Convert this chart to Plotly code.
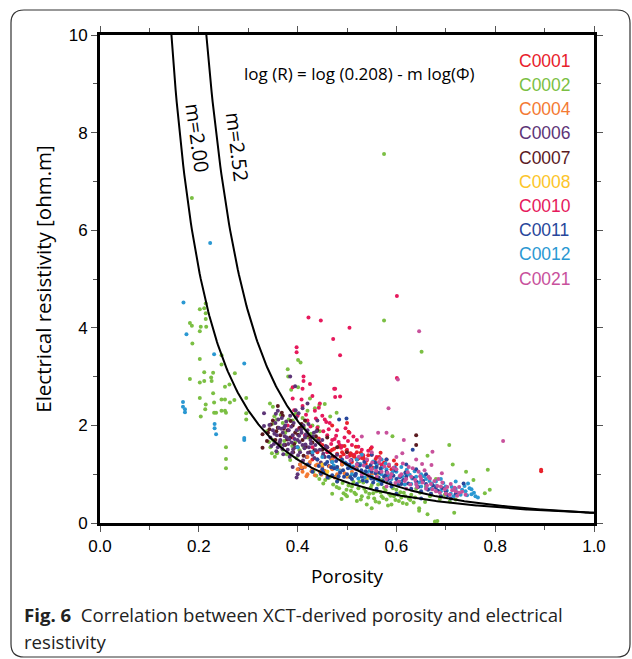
import numpy as np
import plotly.graph_objects as go

# ---------------- data ----------------
series_names = ["C0001", "C0002", "C0004", "C0006", "C0007", "C0008", "C0010", "C0011", "C0012", "C0021"]
series_colors = ["#e8212b", "#7bbf43", "#f47a33", "#5d3577", "#5b1a1f", "#fcc52a", "#e6195c", "#28479b", "#2a98d2", "#c8519c"]

c0001_phi = [0.45, 0.46, 0.47, 0.48, 0.49, 0.495, 0.50, 0.505, 0.51, 0.515, 0.52, 0.525, 0.53, 0.535, 0.54, 0.545, 0.55, 0.555, 0.56, 0.565, 0.57, 0.58, 0.59, 0.60, 0.62, 0.44, 0.47, 0.50, 0.503, 0.43, 0.893, 0.893,
             0.443, 0.457, 0.466, 0.474, 0.483, 0.487, 0.493, 0.499, 0.507, 0.512, 0.518, 0.523, 0.528, 0.533, 0.538, 0.543, 0.548, 0.553, 0.558, 0.563, 0.568, 0.575, 0.585, 0.595]
c0001_res = [1.60, 1.55, 1.50, 1.42, 1.45, 1.58, 1.35, 1.38, 1.25, 1.36, 1.45, 1.20, 1.33, 1.30, 1.28, 1.15, 1.40, 1.25, 1.05, 1.35, 1.15, 1.30, 1.10, 1.20, 1.05, 1.45, 2.00, 2.05, 1.87, 1.30, 1.09, 1.06,
             1.73, 1.52, 1.47, 1.52, 1.56, 1.36, 1.41, 1.48, 1.43, 1.38, 1.56, 1.32, 1.44, 1.34, 1.21, 1.39, 1.52, 1.13, 1.31, 1.22, 1.44, 1.24, 1.17, 1.28]

c0002_phi = [0.186, 0.214, 0.211, 0.202, 0.214, 0.214, 0.182, 0.186, 0.204, 0.215, 0.202, 0.187, 0.202, 0.211, 0.182, 0.202, 0.211, 0.225, 0.226, 0.229,
             0.246, 0.246, 0.273, 0.262, 0.253, 0.229, 0.202, 0.246, 0.253, 0.263, 0.272, 0.296, 0.296, 0.296, 0.214, 0.213, 0.231, 0.231, 0.235, 0.246,
             0.253, 0.255, 0.204, 0.255, 0.255, 0.255,
             0.380, 0.401, 0.406, 0.401, 0.387, 0.381, 0.344, 0.350, 0.353, 0.358, 0.348, 0.358, 0.385, 0.412, 0.455, 0.444, 0.466, 0.441, 0.479,
             0.360, 0.370, 0.375, 0.390, 0.400, 0.410, 0.420, 0.430, 0.365, 0.350, 0.395, 0.345, 0.370, 0.420, 0.425, 0.435,
             0.338, 0.342, 0.351, 0.359, 0.366, 0.373, 0.382, 0.389, 0.396, 0.404, 0.413, 0.418, 0.427, 0.436, 0.445, 0.354, 0.378, 0.398,
             0.444, 0.452, 0.466, 0.479, 0.489, 0.493, 0.499, 0.469, 0.500, 0.510, 0.515, 0.520, 0.525, 0.530, 0.535, 0.540, 0.545, 0.550, 0.555, 0.560,
             0.565, 0.570, 0.575, 0.580, 0.585, 0.590, 0.595, 0.600, 0.605, 0.610, 0.615, 0.621, 0.625, 0.630, 0.635, 0.646, 0.646, 0.663, 0.678, 0.683,
             0.717, 0.480, 0.460, 0.470, 0.505, 0.540, 0.550, 0.570, 0.600, 0.640, 0.660, 0.670, 0.690, 0.700, 0.720,
             0.432, 0.438, 0.447, 0.456, 0.463, 0.472, 0.477, 0.484, 0.491, 0.497, 0.503, 0.508, 0.513, 0.518, 0.523, 0.528, 0.533, 0.538, 0.543, 0.548,
             0.553, 0.558, 0.563, 0.568, 0.573, 0.578, 0.583, 0.588, 0.593, 0.598, 0.603, 0.608, 0.613, 0.618, 0.628, 0.638, 0.648, 0.658, 0.668, 0.688,
             0.698, 0.708,
             0.707, 0.785, 0.779, 0.789, 0.756, 0.741, 0.714, 0.663, 0.651, 0.575, 0.592, 0.620, 0.650, 0.680, 0.575]
c0002_res = [6.66, 4.50, 4.40, 4.38, 4.30, 4.18, 4.10, 4.04, 4.02, 4.02, 3.93, 3.68, 3.36, 3.09, 2.95, 2.88, 2.91, 2.98, 2.91, 3.08,
             3.44, 3.25, 3.07, 2.84, 2.79, 2.66, 2.56, 2.53, 2.53, 2.47, 2.52, 2.56, 2.25, 2.12, 2.43, 2.33, 2.47, 2.26, 2.26, 2.30,
             2.30, 2.26, 2.18, 1.55, 1.31, 1.12,
             3.15, 3.34, 3.29, 2.78, 2.73, 3.00, 2.45, 2.38, 2.19, 2.12, 1.43, 1.43, 1.29, 1.56, 2.44, 2.42, 2.18, 1.97, 2.26,
             1.95, 2.05, 1.85, 2.10, 1.90, 2.15, 1.75, 2.00, 1.60, 1.70, 1.65, 1.55, 1.50, 2.30, 2.55, 2.35,
             1.88, 1.66, 2.04, 1.44, 2.22, 1.68, 2.12, 1.58, 2.24, 1.49, 1.95, 2.08, 1.83, 1.72, 1.88, 1.36, 1.41, 1.33,
             0.90, 0.81, 0.95, 0.74, 0.49, 0.61, 0.68, 1.15, 0.55, 0.75, 0.62, 0.45, 0.85, 0.55, 0.70, 0.38, 0.60, 0.78, 0.50, 0.65,
             0.42, 0.55, 0.72, 0.48, 0.60, 0.38, 0.55, 0.68, 0.45, 0.52, 0.62, 0.39, 0.50, 0.58, 0.42, 0.30, 0.25, 0.18, 0.03, 0.04,
             0.21, 0.85, 1.05, 0.60, 0.95, 0.90, 0.30, 0.88, 0.80, 0.70, 0.75, 0.60, 0.55, 0.65, 0.48,
             1.05, 0.97, 1.02, 0.88, 0.92, 0.79, 0.95, 0.71, 0.82, 0.58, 0.77, 0.66, 0.84, 0.59, 0.71, 0.48, 0.83, 0.64, 0.52, 0.73,
             0.61, 0.44, 0.79, 0.63, 0.51, 0.67, 0.36, 0.56, 0.71, 0.47, 0.58, 0.63, 0.41, 0.55, 0.47, 0.52, 0.62, 0.43, 0.55, 0.49,
             0.58, 0.44,
             1.60, 1.09, 0.61, 0.68, 0.88, 1.05, 1.20, 1.38, 3.51, 7.56, 1.78, 1.05, 0.95, 0.90, 4.15]

c0004_phi = [0.40, 0.405, 0.41, 0.415, 0.42, 0.425, 0.43, 0.435, 0.44, 0.445, 0.45, 0.46, 0.47, 0.48, 0.49, 0.50, 0.51, 0.52, 0.42, 0.47, 0.55,
             0.408, 0.418, 0.428, 0.437, 0.448, 0.455, 0.465, 0.475, 0.485, 0.495]
c0004_res = [1.10, 1.20, 1.05, 1.15, 1.00, 1.25, 1.10, 0.98, 1.20, 1.05, 1.15, 0.95, 1.10, 1.00, 1.20, 0.95, 1.05, 1.15, 1.35, 1.30, 1.00,
             1.14, 0.96, 1.06, 1.18, 0.99, 1.07, 1.16, 0.93, 1.08, 1.02]

c0006_phi = [0.345, 0.350, 0.352, 0.355, 0.358, 0.360, 0.362, 0.365, 0.368, 0.370, 0.372, 0.375, 0.378, 0.380, 0.382, 0.385, 0.388, 0.390, 0.392, 0.395,
             0.398, 0.400, 0.402, 0.405, 0.408, 0.410, 0.412, 0.415, 0.418, 0.420, 0.423, 0.426, 0.430, 0.433, 0.436, 0.440, 0.445, 0.450, 0.455, 0.460,
             0.470, 0.480, 0.490, 0.400, 0.402, 0.405, 0.398, 0.390, 0.420, 0.410, 0.440, 0.360, 0.332, 0.332, 0.385, 0.395,
             0.347, 0.353, 0.357, 0.361, 0.364, 0.367, 0.371, 0.374, 0.377, 0.381, 0.384, 0.387, 0.391, 0.394, 0.397, 0.401, 0.404, 0.407, 0.411, 0.414,
             0.417, 0.421, 0.424, 0.427, 0.431, 0.434, 0.437, 0.441, 0.447, 0.452, 0.457, 0.463, 0.468, 0.356, 0.369, 0.383, 0.396, 0.409, 0.422, 0.438,
             0.343, 0.373, 0.389, 0.403, 0.416]
c0006_res = [1.75, 1.90, 1.62, 2.05, 1.80, 1.55, 1.95, 1.70, 2.15, 1.85, 1.60, 2.00, 1.75, 1.50, 1.90, 2.20, 1.65, 1.80, 2.05, 1.55,
             1.90, 1.70, 2.25, 1.45, 1.85, 1.60, 2.00, 1.75, 1.35, 1.90, 1.55, 1.70, 1.40, 1.85, 1.60, 1.30, 1.50, 1.70, 1.35, 1.55,
             1.25, 1.40, 1.20, 1.00, 1.10, 1.20, 0.93, 1.15, 2.45, 2.35, 2.10, 2.30, 2.25, 1.99, 3.00, 2.80,
             1.58, 1.83, 1.47, 2.12, 1.66, 1.93, 1.41, 1.78, 2.08, 1.62, 1.36, 1.97, 1.51, 1.72, 2.16, 1.39, 1.66, 1.91, 1.28, 1.53,
             1.82, 1.44, 1.21, 1.63, 1.77, 1.33, 1.49, 1.69, 1.24, 1.42, 1.58, 1.17, 1.31, 2.24, 1.52, 1.71, 2.31, 1.12, 2.03, 1.88,
             2.01, 1.96, 1.44, 1.79, 1.61]

c0007_phi = [0.329, 0.329, 0.340, 0.350, 0.355, 0.360, 0.365, 0.370, 0.375, 0.380, 0.385, 0.390, 0.395, 0.400, 0.405, 0.410, 0.415, 0.420, 0.425, 0.430,
             0.440, 0.450, 0.460, 0.470, 0.480, 0.500, 0.520, 0.640, 0.640, 0.360,
             0.338, 0.346, 0.357, 0.363, 0.372, 0.379, 0.386, 0.393, 0.401, 0.408, 0.417, 0.426, 0.434, 0.443, 0.452, 0.343, 0.368, 0.391, 0.412, 0.437]
c0007_res = [1.82, 1.54, 1.85, 2.10, 1.70, 1.95, 1.80, 2.20, 1.60, 1.90, 1.75, 2.00, 1.85, 1.55, 1.95, 1.70, 2.10, 1.80, 1.45, 1.65,
             1.90, 1.50, 1.75, 1.35, 1.55, 1.45, 1.30, 1.80, 1.60, 2.40,
             1.68, 2.02, 1.88, 1.64, 1.93, 1.71, 2.09, 1.62, 1.81, 2.03, 1.56, 1.74, 1.49, 1.66, 1.39, 1.92, 2.26, 1.45, 1.38, 1.78]

c0008_phi = [0.46, 0.48, 0.50, 0.52, 0.54, 0.56, 0.58, 0.45]
c0008_res = [1.05, 1.15, 0.98, 1.10, 0.92, 1.00, 0.90, 1.20]

c0010_phi = [0.472, 0.486, 0.474, 0.486, 0.422, 0.447, 0.505, 0.398, 0.398, 0.412, 0.412, 0.390, 0.476, 0.476, 0.601, 0.601,
             0.400, 0.410, 0.420, 0.430, 0.435, 0.440, 0.450, 0.455, 0.460, 0.465, 0.470, 0.475, 0.480, 0.485, 0.490, 0.495, 0.500, 0.505, 0.510, 0.515,
             0.520, 0.530, 0.540, 0.550, 0.560, 0.570, 0.380, 0.390, 0.415, 0.430, 0.445, 0.460, 0.475, 0.490, 0.410, 0.425, 0.445, 0.390,
             0.393, 0.403, 0.408, 0.417, 0.426, 0.437, 0.443, 0.452, 0.458, 0.463, 0.468, 0.478, 0.483, 0.488, 0.497, 0.502, 0.508, 0.513, 0.523, 0.533, 0.543]
c0010_res = [3.77, 3.44, 2.75, 2.59, 4.21, 4.15, 4.00, 3.60, 3.50, 3.00, 2.91, 2.78, 2.75, 2.58, 4.65, 2.97,
             2.20, 2.40, 2.10, 2.60, 2.30, 1.95, 2.20, 2.12, 1.80, 2.05, 1.70, 1.72, 1.90, 1.60, 1.58, 1.75, 1.50, 1.85, 1.60, 1.40,
             1.70, 1.50, 1.30, 1.55, 1.35, 1.20, 2.00, 1.75, 1.80, 1.55, 1.65, 1.45, 1.35, 1.25, 2.75, 2.85, 2.45, 2.55,
             2.31, 1.94, 2.53, 2.22, 1.98, 2.14, 2.36, 1.88, 2.07, 1.92, 1.62, 1.79, 1.66, 1.54, 1.94, 1.68, 1.42, 1.77, 1.56, 1.39, 1.48]

c0011_phi = [0.42, 0.43, 0.44, 0.45, 0.46, 0.47, 0.48, 0.49, 0.50, 0.505, 0.51, 0.52, 0.53, 0.535, 0.54, 0.55, 0.555, 0.56, 0.57, 0.575,
             0.58, 0.59, 0.60, 0.61, 0.62, 0.63, 0.64, 0.65, 0.66, 0.67, 0.68, 0.69, 0.70, 0.71, 0.72, 0.484, 0.633, 0.66, 0.64, 0.62,
             0.58, 0.55, 0.736, 0.60, 0.56, 0.52, 0.48, 0.65, 0.499,
             0.443, 0.452, 0.463, 0.474, 0.483, 0.492, 0.498, 0.507, 0.513, 0.518, 0.526, 0.532, 0.538, 0.544, 0.548, 0.553, 0.558, 0.564, 0.568, 0.573,
             0.578, 0.584, 0.588, 0.594, 0.598, 0.604, 0.614, 0.624, 0.634, 0.644, 0.654, 0.664, 0.674, 0.684, 0.694, 0.704,
             0.447, 0.456, 0.461, 0.468, 0.478, 0.486, 0.494, 0.502, 0.509, 0.516, 0.521, 0.529, 0.541, 0.549, 0.557, 0.566, 0.582, 0.596, 0.608, 0.618]
c0011_res = [1.20, 1.05, 1.30, 1.10, 1.25, 0.98, 1.15, 1.30, 1.00, 1.20, 0.90, 1.10, 0.95, 1.25, 0.85, 1.05, 0.90, 1.15, 0.80, 0.95,
             1.05, 0.75, 0.90, 0.80, 0.95, 0.70, 0.85, 0.65, 0.80, 0.60, 0.72, 0.55, 0.65, 0.50, 0.60, 2.12, 1.50, 1.00, 1.10, 1.20,
             1.30, 1.40, 0.81, 0.60, 0.70, 0.80, 0.85, 0.50, 2.14,
             1.17, 1.04, 1.36, 1.12, 0.96, 1.08, 1.22, 0.94, 1.13, 1.01, 1.18, 0.87, 1.06, 0.97, 1.19, 0.83, 1.02, 0.93, 1.11, 0.86,
             0.98, 0.91, 0.82, 0.97, 1.08, 0.77, 0.88, 0.81, 0.92, 0.74, 0.86, 0.68, 0.77, 0.66, 0.71, 0.57,
             1.01, 1.21, 0.93, 1.14, 1.27, 1.03, 0.95, 1.12, 1.29, 0.97, 1.21, 1.08, 1.14, 0.91, 1.24, 1.03, 0.88, 1.12, 0.95, 1.03]

c0012_phi = [0.169, 0.175, 0.231, 0.292, 0.168, 0.168, 0.172, 0.172, 0.232, 0.232, 0.235, 0.292, 0.292, 0.223,
             0.48, 0.50, 0.51, 0.52, 0.53, 0.54, 0.55, 0.56, 0.57, 0.58, 0.59, 0.60, 0.61, 0.62, 0.63, 0.64, 0.65, 0.66, 0.67, 0.68,
             0.69, 0.70, 0.71, 0.72, 0.73, 0.74, 0.752, 0.752, 0.745, 0.76, 0.45, 0.47, 0.53, 0.57, 0.61, 0.65, 0.69, 0.72, 0.40, 0.43,
             0.473, 0.487, 0.496, 0.508, 0.517, 0.527, 0.536, 0.546, 0.553, 0.562, 0.571, 0.583, 0.592, 0.602, 0.612, 0.621, 0.632, 0.641, 0.651, 0.661,
             0.672, 0.681, 0.692, 0.702, 0.712, 0.722, 0.733, 0.743, 0.748, 0.757, 0.765, 0.738, 0.716, 0.695,
             0.512, 0.523, 0.541, 0.557, 0.566, 0.578, 0.589, 0.597, 0.606, 0.617, 0.627, 0.637, 0.646, 0.656, 0.667]
c0012_res = [4.52, 3.87, 3.46, 3.27, 2.48, 2.38, 2.33, 2.27, 2.03, 1.94, 1.82, 1.74, 1.70, 5.74,
             1.10, 1.20, 1.00, 1.30, 1.05, 1.15, 0.95, 1.20, 1.00, 1.10, 0.90, 1.05, 0.85, 1.00, 0.80, 0.95, 0.75, 0.90, 0.70, 0.85,
             0.65, 0.75, 0.60, 0.70, 0.58, 0.65, 0.69, 0.59, 0.81, 0.55, 1.35, 1.25, 1.40, 1.30, 1.15, 1.00, 0.90, 0.85, 1.55, 1.45,
             1.18, 1.06, 1.24, 1.12, 0.98, 1.21, 0.93, 1.07, 1.26, 0.88, 1.13, 0.97, 1.04, 0.83, 0.96, 1.09, 0.91, 0.78, 0.87, 0.73,
             0.81, 0.76, 0.71, 0.66, 0.74, 0.63, 0.68, 0.57, 0.71, 0.62, 0.52, 0.76, 0.55, 0.82,
             1.16, 0.91, 1.02, 1.13, 0.86, 1.22, 0.99, 1.14, 0.94, 0.79, 0.99, 1.06, 0.83, 0.96, 0.86]

c0021_phi = [0.646, 0.603, 0.584, 0.816, 0.563, 0.580, 0.615, 0.530, 0.673, 0.671, 0.727, 0.727,
             0.52, 0.53, 0.54, 0.55, 0.56, 0.565, 0.57, 0.58, 0.585, 0.59, 0.60, 0.605, 0.61, 0.62, 0.625, 0.63, 0.64, 0.645, 0.65, 0.66,
             0.665, 0.67, 0.68, 0.685, 0.69, 0.70, 0.71, 0.72, 0.74, 0.50, 0.55, 0.60, 0.64, 0.58, 0.62,
             0.507, 0.516, 0.524, 0.534, 0.543, 0.551, 0.559, 0.567, 0.576, 0.582, 0.588, 0.594, 0.598, 0.607, 0.613, 0.617, 0.623, 0.628, 0.633, 0.638,
             0.642, 0.648, 0.653, 0.657, 0.662, 0.668, 0.673, 0.677, 0.683, 0.688, 0.693, 0.698, 0.703, 0.708, 0.713, 0.718, 0.723, 0.733, 0.612, 0.652,
             0.692]
c0021_res = [3.93, 2.94, 2.35, 1.68, 1.85, 1.85, 1.70, 1.77, 1.46, 1.19, 0.74, 0.62,
             1.20, 1.00, 1.30, 1.10, 0.95, 1.25, 1.05, 0.90, 1.20, 1.00, 1.10, 0.85, 1.00, 0.90, 1.15, 0.95, 0.80, 1.05, 0.90, 0.70,
             0.95, 0.80, 0.65, 0.90, 0.75, 0.60, 0.80, 0.65, 0.58, 1.35, 1.45, 1.35, 1.30, 0.75, 0.70,
             1.28, 1.11, 1.36, 1.18, 0.98, 1.24, 1.07, 1.32, 1.16, 1.03, 0.93, 1.13, 0.82, 0.97, 1.22, 0.86, 1.04, 0.79, 1.12, 0.88,
             0.74, 0.96, 0.83, 1.08, 0.77, 0.91, 0.69, 0.86, 0.76, 0.62, 0.83, 0.69, 0.74, 0.58, 0.67, 0.72, 0.56, 0.64, 1.43, 1.21,
             1.02]

archie_a = 0.208
archie_m = [2.00, 2.52]

x_ticks = [0.0, 0.2, 0.4, 0.6, 0.8, 1.0]
y_ticks = [0, 2, 4, 6, 8, 10]

# ---------------- figure ----------------
W, H = 632, 659
L, R_, T, B = 100, 38, 35, 136
PW, PH = W - L - R_, H - T - B


def px(x):
    return (x - L) / PW


def py(y):
    return (H - B - y) / PH


series = {
    "C0001": (c0001_phi, c0001_res), "C0002": (c0002_phi, c0002_res), "C0004": (c0004_phi, c0004_res),
    "C0006": (c0006_phi, c0006_res), "C0007": (c0007_phi, c0007_res), "C0008": (c0008_phi, c0008_res),
    "C0010": (c0010_phi, c0010_res), "C0011": (c0011_phi, c0011_res), "C0012": (c0012_phi, c0012_res),
    "C0021": (c0021_phi, c0021_res),
}
color_of = dict(zip(series_names, series_colors))
draw_order = ["C0002", "C0010", "C0001", "C0007", "C0006", "C0004", "C0008", "C0012", "C0011", "C0021"]

fig = go.Figure()
for name in draw_order:
    xs, ys = series[name]
    fig.add_trace(go.Scatter(x=xs, y=ys, mode="markers", name=name, showlegend=False,
                             marker=dict(size=4, color=color_of[name], line=dict(width=0))))

phi_grid = np.linspace(0.12, 1.0, 400)
for m in archie_m:
    fig.add_trace(go.Scatter(x=phi_grid, y=archie_a * phi_grid ** (-m), mode="lines", showlegend=False,
                             line=dict(color="black", width=2)))

tick_font = dict(family="Liberation Sans, Arial", size=17, color="black")

fig.update_xaxes(range=[0, 1], tickvals=x_ticks, ticktext=[f"{v:.1f}" for v in x_ticks],
                 showline=True, linecolor="black", linewidth=3, mirror="ticks",
                 ticks="outside", ticklen=6, tickwidth=1, tickcolor="#555",
                 minor=dict(dtick=0.1, ticks="outside", ticklen=4, tickcolor="#555", tickwidth=1),
                 showgrid=False, zeroline=False, tickfont=tick_font,
                 title=dict(text="Porosity", font=dict(family="Open Sans", size=19, color="black"), standoff=15))
fig.update_yaxes(range=[0, 10], tickvals=y_ticks, ticktext=[str(v) for v in y_ticks],
                 showline=True, linecolor="black", linewidth=3, mirror="ticks",
                 ticks="outside", ticklen=6, tickwidth=1, tickcolor="#555",
                 minor=dict(dtick=1, ticks="outside", ticklen=4, tickcolor="#555", tickwidth=1),
                 showgrid=False, zeroline=False, tickfont=tick_font,
                 title=dict(text="Electrical resistivity [ohm.m]", font=dict(family="Open Sans", size=20.5, color="black"), standoff=12))

ann = []
# series labels
for i, (name, col) in enumerate(zip(series_names, series_colors)):
    ann.append(dict(x=px(517), y=py(60.7 + 24.2 * i), xref="paper", yref="paper", text=name, showarrow=False,
                    xanchor="left", yanchor="middle", font=dict(family="Liberation Sans, Arial", size=17.5, color=col)))
# equation
ann.append(dict(x=px(359.5), y=py(73), xref="paper", yref="paper", showarrow=False,
                text="log (R) = log (0.208) - m log(\u03a6)", xanchor="center", yanchor="middle",
                font=dict(family="Open Sans", size=17, color="black")))
# curve labels
ann.append(dict(x=px(198), y=py(138), xref="paper", yref="paper", showarrow=False, text="m=2.00", textangle=82,
                xanchor="center", yanchor="middle", font=dict(family="Open Sans", size=20, color="black")))
ann.append(dict(x=px(238), y=py(147), xref="paper", yref="paper", showarrow=False, text="m=2.52", textangle=83,
                xanchor="center", yanchor="middle", font=dict(family="Open Sans", size=20, color="black")))
# caption
ann.append(dict(x=px(22), y=py(614), xref="paper", yref="paper", showarrow=False, xanchor="left", yanchor="middle",
                text="<b>Fig. 6</b>  Correlation between XCT-derived porosity and electrical",
                font=dict(family="Open Sans", size=18.6, color="#222")))
ann.append(dict(x=px(22), y=py(641), xref="paper", yref="paper", showarrow=False, xanchor="left", yanchor="middle",
                text="resistivity", font=dict(family="Open Sans", size=18.6, color="#222")))

# rounded frame around the figure
x0, y0, x1, y1, r = 11, 10, 630, 657, 13
path = (f"M {px(x0 + r)} {py(y0)} L {px(x1 - r)} {py(y0)} Q {px(x1)} {py(y0)} {px(x1)} {py(y0 + r)} "
        f"L {px(x1)} {py(y1 - r)} Q {px(x1)} {py(y1)} {px(x1 - r)} {py(y1)} "
        f"L {px(x0 + r)} {py(y1)} Q {px(x0)} {py(y1)} {px(x0)} {py(y1 - r)} "
        f"L {px(x0)} {py(y0 + r)} Q {px(x0)} {py(y0)} {px(x0 + r)} {py(y0)} Z")
shapes = [dict(type="path", xref="paper", yref="paper", path=path, line=dict(color="#333", width=1.2), layer="below")]

fig.update_layout(width=W, height=H, margin=dict(l=L, r=R_, t=T, b=B, pad=0),
                  plot_bgcolor="white", paper_bgcolor="white", annotations=ann, shapes=shapes,
                  showlegend=False)

fig.write_html("out.html")
